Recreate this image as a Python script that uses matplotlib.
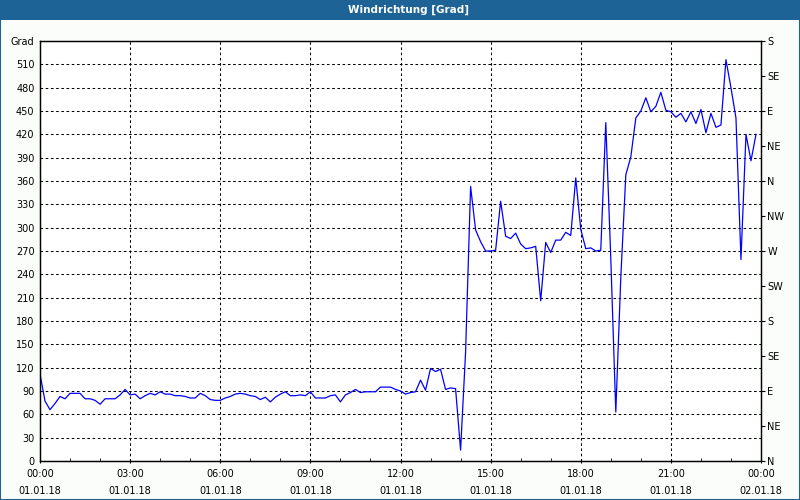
import numpy as np
import matplotlib
matplotlib.use("Agg")
import matplotlib.pyplot as plt
from matplotlib.patches import Rectangle
from matplotlib.ticker import MultipleLocator

# wind direction in degrees, one value every 10 minutes from 01.01.18 00:00
wind_dir = [
    112, 77, 66, 74, 83, 80, 87, 87, 87, 80, 80, 78,
    73, 80, 80, 80, 85, 92, 85, 86, 80, 84, 87, 85,
    89, 86, 86, 84, 84, 83, 81, 81, 87, 84, 79, 78,
    78, 81, 83, 86, 87, 86, 84, 83, 79, 82, 76, 82,
    86, 89, 84, 84, 85, 84, 89, 81, 81, 81, 84, 85,
    76, 85, 88, 92, 88, 89, 89, 89, 95, 95, 95, 92,
    90, 86, 88, 89, 104, 91, 119, 115, 118, 92, 94, 93,
    14, 140, 353, 297, 282, 270, 270, 271, 334, 289, 286, 293,
    279, 273, 274, 276, 206, 281, 268, 284, 284, 294, 290, 364,
    298, 273, 274, 270, 271, 435, 260, 63, 236, 368, 391, 441,
    450, 467, 449, 456, 474, 451, 449, 442, 447, 436, 449, 434,
    452, 422, 447, 429, 432, 516, 480, 441, 259, 420, 386, 420,
]
hours = np.arange(len(wind_dir)) / 6.0

x_ticks = [0, 3, 6, 9, 12, 15, 18, 21, 24]
x_labels = ["00:00\n01.01.18", "03:00\n01.01.18", "06:00\n01.01.18",
            "09:00\n01.01.18", "12:00\n01.01.18", "15:00\n01.01.18",
            "18:00\n01.01.18", "21:00\n01.01.18", "00:00\n02.01.18"]
y_ticks = list(range(0, 541, 30))
y_labels = [str(v) for v in y_ticks[:-1]] + ["Grad"]
compass_ticks = list(range(0, 541, 45))
compass_labels = ["N", "NE", "E", "SE", "S", "SW", "W", "NW",
                  "N", "NE", "E", "SE", "S"]

bar_col = "#1d6396"
fs = 7

fig = plt.figure(figsize=(8, 5), dpi=100, facecolor="#fbfdfb")
# title bar and window border
fig.patches.append(Rectangle((0, 480 / 500), 1, 20 / 500, transform=fig.transFigure,
                             facecolor=bar_col, edgecolor="none", zorder=0))
fig.patches.append(Rectangle((0.0006, 0.001), 0.9988, 0.998, transform=fig.transFigure,
                             facecolor="none", edgecolor=bar_col, linewidth=1.5, zorder=0))
fig.text(409 / 800, 490 / 500, "Windrichtung [Grad]", color="white", fontsize=fs + 0.5,
         fontweight="bold", ha="center", va="center")

ax = fig.add_axes([40 / 800, 39 / 500, 721 / 800, 420 / 500])
ax.set_facecolor("white")
ax.plot(hours, wind_dir, color="#0000ff", linewidth=0.9)

ax.set_xlim(0, 24)
ax.set_ylim(0, 540)
ax.set_xticks(x_ticks)
ax.set_xticklabels(x_labels, fontsize=fs, linespacing=1.9)
ax.xaxis.set_minor_locator(MultipleLocator(1))
ax.tick_params(axis="x", which="major", length=3, direction="inout", pad=4)
ax.tick_params(axis="x", which="minor", length=2, direction="in")
ax.set_yticks(y_ticks)
ax.set_yticklabels(y_labels, fontsize=fs)
ax.tick_params(axis="y", length=0, pad=4)

for v in y_ticks[1:-1]:
    ax.axhline(v, color="black", linewidth=0.75, linestyle=(0, (2.5, 2.5)), zorder=1)
for h in x_ticks[1:-1]:
    ax.axvline(h, color="black", linewidth=0.75, linestyle=(0, (2.5, 2.5)), zorder=1)

for s in ax.spines.values():
    s.set_linewidth(0.9)

ax2 = ax.twinx()
ax2.set_ylim(0, 540)
ax2.set_yticks(compass_ticks)
ax2.set_yticklabels(compass_labels, fontsize=fs)
ax2.tick_params(axis="y", length=3, pad=1.5)
for s in ax2.spines.values():
    s.set_linewidth(0.9)

fig.savefig("out.png", dpi=100, facecolor=fig.get_facecolor())
